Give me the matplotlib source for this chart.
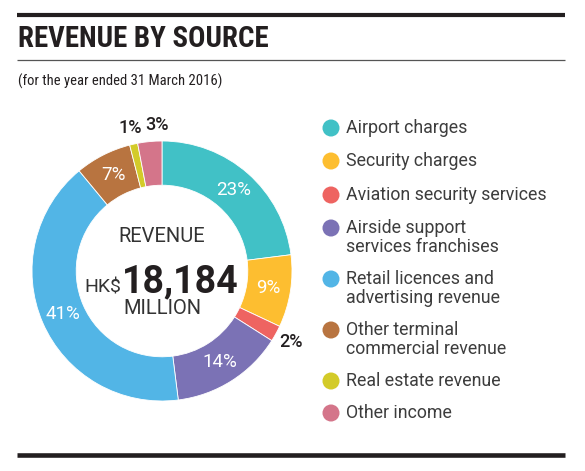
import matplotlib.pyplot as plt
import numpy as np

sources = ['Airport charges', 'Security charges', 'Aviation security services',
           'Airside support\nservices franchises', 'Retail licences and\nadvertising revenue',
           'Other terminal\ncommercial revenue', 'Real estate revenue', 'Other income']
shares = [23, 9, 2, 14, 41, 7, 1, 3]
colors = ['#41c1c6', '#fdbe30', '#ee6461', '#7b72b5', '#52b5e6', '#b87440', '#d3cb29', '#d4758a']
outside = [2, 6, 7]  # small slices labelled outside the ring

SANS = ['Roboto', 'DejaVu Sans']
NARROW = ['Roboto Condensed', 'Liberation Sans Narrow', 'Roboto', 'DejaVu Sans']

W, H = 585, 471
fig = plt.figure(figsize=(W / 100, H / 100), dpi=100)

# donut
cx, cy, r = 162, 271, 130
ax = fig.add_axes([(cx - r) / W, (H - cy - r) / H, 2 * r / W, 2 * r / H])
wedges, texts, autotexts = ax.pie(shares, colors=colors, startangle=90, counterclock=False,
                                  radius=1, wedgeprops=dict(width=0.34, edgecolor='white', linewidth=0.6),
                                  autopct=lambda p: f'{p:.0f}%', pctdistance=0.83,
                                  textprops=dict(color='white', fontsize=13.5, family=SANS))
ax.set_xlim(-1, 1)
ax.set_ylim(-1, 1)
for i in outside:
    w = wedges[i]
    ang = np.deg2rad((w.theta1 + w.theta2) / 2)
    autotexts[i].set_position((1.13 * np.cos(ang), 1.13 * np.sin(ang)))
    autotexts[i].set_color('#231f20')
    autotexts[i].set_fontsize(13)
    autotexts[i].set_fontweight(500)
autotexts[7].set_x(autotexts[7].get_position()[0] + 0.07)

# overlay in pixel coordinates
ov = fig.add_axes([0, 0, 1, 1])
ov.set_xlim(0, W)
ov.set_ylim(H, 0)
ov.axis('off')

ov.plot([17, 565], [14.5, 14.5], color='#231f20', lw=3, solid_capstyle='butt')
ov.plot([17, 565], [60, 60], color='#555555', lw=0.9, solid_capstyle='butt')
ov.plot([17, 565], [455, 455], color='#231f20', lw=3.3, solid_capstyle='butt')
ov.text(18, 47, 'REVENUE BY SOURCE', family=NARROW, weight='bold',
        fontsize=20.8, color='#231f20', va='baseline')
ov.text(18, 81, '(for the year ended 31 March 2016)', family=NARROW,
        fontsize=10.5, color='#231f20', va='center')

ov.text(cx, 237, 'REVENUE', family=SANS, fontsize=14.5, color='#333333', ha='center', va='center')
ov.text(121, 292, 'HK$', family=SANS, fontsize=14, color='#333333', ha='right', va='baseline')
ov.text(122, 292, '18,184', family=SANS, weight='bold', fontsize=27, color='#231f20',
        ha='left', va='baseline')
ov.text(cx, 308, 'MILLION', family=SANS, fontsize=14.5, color='#333333', ha='center', va='center')

# legend
rows = [128, 161, 195, 228, 279, 330, 381, 413]
for y, lab, c in zip(rows, sources, colors):
    ov.scatter([331], [y], s=150, color=c, edgecolor='none')
    ov.text(346, y - 9, lab, family=SANS, fontsize=12.8, color='#3d3d3d', va='top',
            linespacing=1.1)

fig.savefig('out.png', dpi=100)
